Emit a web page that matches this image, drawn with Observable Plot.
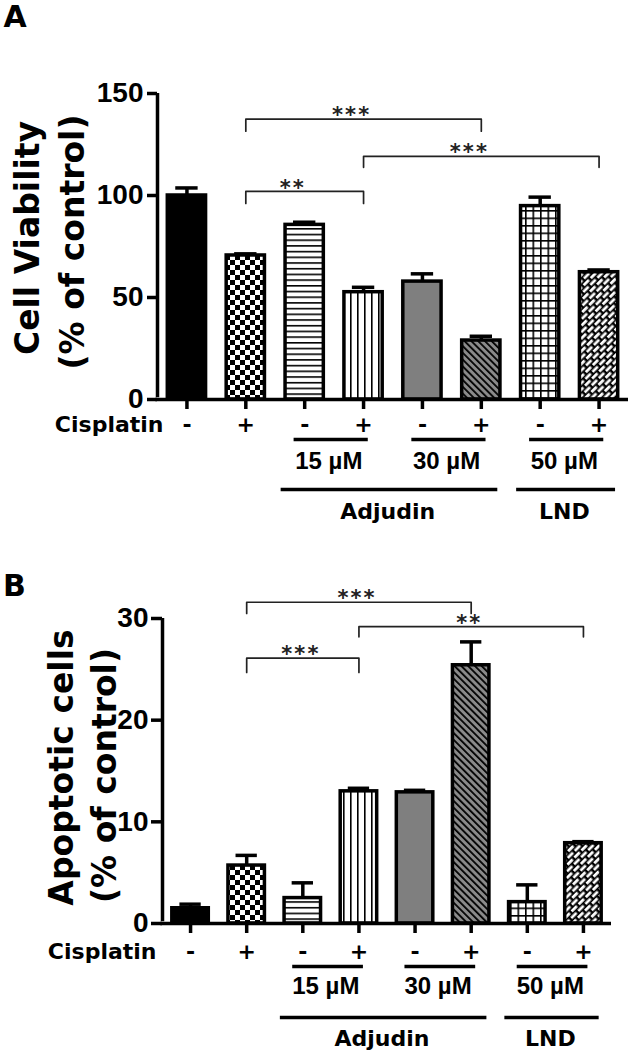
<!DOCTYPE html>
<html><head><meta charset="utf-8">
<script src="https://cdn.jsdelivr.net/npm/d3@7"></script>
<script src="https://cdn.jsdelivr.net/npm/@observablehq/plot@0.6"></script>
<style>
html,body{margin:0;padding:0;background:#fff;}
#chart svg{display:block;}
</style></head><body><div id="chart"></div>
<script>
// ---- data ----
const conditions = ["Control", "Cisplatin", "Adjudin 15 µM", "Adjudin 15 µM + Cisplatin",
  "Adjudin 30 µM", "Adjudin 30 µM + Cisplatin", "LND 50 µM", "LND 50 µM + Cisplatin"];
const cisplatin = ["-", "+", "-", "+", "-", "+", "-", "+"];
const viability = [100.0, 70.6, 85.6, 52.6, 57.8, 28.9, 94.8, 62.4];
const viabilityErr = [3.7, 0.8, 1.3, 2.4, 3.8, 2.1, 4.4, 1.1];
const apoptotic = [1.5, 5.7, 2.5, 13.0, 12.9, 25.4, 2.1, 7.9];
const apoptoticErr = [0.4, 1.0, 1.5, 0.3, 0.2, 2.3, 1.7, 0.15];
const viabilityTicks = [0, 50, 100, 150];
const apoptoticTicks = [0, 10, 20, 30];
const bracketFrom = [1, 3, 1];
const bracketTo = [5, 7, 3];
const viabilityBracketY = [137.4, 119.2, 102.0];
const viabilityBracketDrop = [131.5, 113.8, 96.1];
const viabilityStars = ["***", "***", "**"];
const apoptoticBracketY = [31.6, 29.2, 26.1];
const apoptoticBracketDrop = [30.5, 28.2, 24.7];
const apoptoticStars = ["***", "**", "***"];
const doseLabels = ["15 µM", "30 µM", "50 µM"];
const doseFirst = [2, 4, 6];
const doseLast = [3, 5, 7];
const drugLabels = ["Adjudin", "LND"];
const drugFirst = [2, 6];
const drugLast = [5, 7];
const cisplatinLabel = "Cisplatin";
const panelLetters = ["A", "B"];
const viabilityTitle = ["Cell Viability", "(% of control)"];
const apoptoticTitle = ["Apoptotic cells", "(% of control)"];

// ---- patterns ----
function patternDefs(p) {
  const g = d3.create("svg:g");
  const defs = g.append("defs");
  const pat = (id, w, h, rot) => {
    const el = defs.append("pattern").attr("id", p + id).attr("patternUnits", "userSpaceOnUse")
      .attr("width", w).attr("height", h);
    if (rot) el.attr("patternTransform", `rotate(${rot})`);
    return el;
  };
  const r = (el, x, y, w, h, f) => el.append("rect").attr("x", x).attr("y", y)
    .attr("width", w).attr("height", h).attr("fill", f);
  let e = pat("check", 10, 10); r(e, 0, 0, 10, 10, "#fff"); r(e, 0, 0, 5, 5, "#000"); r(e, 5, 5, 5, 5, "#000");
  e = pat("hline", 6, 5.7); r(e, 0, 0, 6, 5.7, "#fff"); r(e, 0, 0, 6, 1.6, "#000");
  e = pat("vline", 7, 6); r(e, 0, 0, 7, 6, "#fff"); r(e, 0, 0, 1.6, 6, "#000");
  e = pat("diag", 4.8, 4.8, -45); r(e, 0, 0, 4.8, 4.8, "#8a8a8a"); r(e, 0, 0, 1.8, 4.8, "#000");
  e = pat("grid", 7.5, 7.5); r(e, 0, 0, 7.5, 7.5, "#fff"); r(e, 0, 0, 7.5, 1.6, "#000"); r(e, 0, 0, 1.6, 7.5, "#000");
  e = pat("brick", 10, 9, -45); r(e, 0, 0, 10, 9, "#000"); r(e, 1, 1, 7.5, 2.8, "#fff");
  r(e, 6, 5.5, 7.5, 2.8, "#fff"); r(e, -4, 5.5, 7.5, 2.8, "#fff");
  return g.node();
}
const fillsFor = p => ["#000", `url(#${p}check)`, `url(#${p}hline)`, `url(#${p}vline)`,
  "#7f7f7f", `url(#${p}diag)`, `url(#${p}grid)`, `url(#${p}brick)`];

function panel(cfg) {
  const fills = fillsFor(cfg.prefix);
  const ymax = cfg.ticks[cfg.ticks.length - 1];
  const rows = cfg.values.map((v, i) => ({i, v, top: v + cfg.errs[i], fill: fills[i], sign: cisplatin[i], name: conditions[i]}));
  const brackets = bracketFrom.flatMap((f, k) => [
    {k, x: f, y: cfg.bDrop[k]}, {k, x: f, y: cfg.bY[k]},
    {k, x: bracketTo[k], y: cfg.bY[k]}, {k, x: bracketTo[k], y: cfg.bDrop[k]}]);
  const starRows = cfg.stars.map((s, k) => ({s: s.split("").join("\u200A"), x: (bracketFrom[k] + bracketTo[k]) / 2, y: cfg.bY[k]}));
  const doses = doseLabels.map((t, k) => ({t, a: doseFirst[k], b: doseLast[k]}));
  const drugs = drugLabels.map((t, k) => ({t, a: drugFirst[k], b: drugLast[k]}));
  const L = cfg.layout;
  const bold = {fontWeight: "bold", fill: "#000"};
  return Plot.plot({
    width: 630, height: 525,
    marginLeft: L.ml, marginRight: L.mr, marginTop: 93, marginBottom: L.mb,
    x: {domain: [-0.5, 7.5]},
    y: {domain: [0, ymax]},
    color: {type: "identity"},
    style: {fontFamily: "DejaVu Sans", color: "#000", background: "#fff", overflow: "visible"},
    marks: [
      () => patternDefs(cfg.prefix),
      Plot.ruleX(rows, {x: "i", y1: "v", y2: "top", stroke: "#000", strokeWidth: 3.5}),
      Plot.rect(rows, {x1: d => d.i - 0.325, x2: d => d.i + 0.325, y1: 0, y2: "v", fill: "fill", stroke: "#000", strokeWidth: 3.5, title: "name"}),
      Plot.ruleY(rows, {x1: d => d.i - 0.19, x2: d => d.i + 0.19, y: "top", stroke: "#000", strokeWidth: 3.5}),
      Plot.ruleY([0], {stroke: "#000", strokeWidth: 3.5, insetLeft: -1.75}),
      Plot.ruleX([-0.5], {y1: 0, y2: ymax, stroke: "#000", strokeWidth: 3.5, insetTop: -1.75}),
      Plot.axisY({ticks: cfg.ticks, tickSize: L.tickSize, tickPadding: L.tickPad, strokeWidth: 3.5,
        fontSize: 28, fontWeight: "bold", fontFamily: "Liberation Sans, Arial, sans-serif", label: null, fill: "#000", stroke: "#000"}),
      Plot.axisX({ticks: rows.map(d => d.i), tickSize: 10, tickFormat: () => "", strokeWidth: 3.5, label: null, stroke: "#000"}),
      Plot.line(brackets, {x: "x", y: "y", z: "k", stroke: "#222", strokeWidth: 1.7}),
      Plot.text(starRows, {x: "x", y: "y", text: "s", dx: L.starDx, dy: -3.6, fontFamily: "DejaVu Sans",
        fontWeight: "bold", fontSize: 21, fill: "#222", lineAnchor: "middle"}),
      // cisplatin row
      Plot.text([cisplatinLabel], {text: d => d, frameAnchor: "bottom-left", textAnchor: "end", lineAnchor: "middle",
        dx: L.cisDx, dy: L.rows[0], fontSize: 22, ...bold}),
      Plot.text(rows, {x: "i", text: "sign", frameAnchor: "bottom", lineAnchor: "middle", dy: L.rows[0], fontSize: 22, ...bold}),
      // dose groups
      Plot.ruleY(doses, {x1: d => d.a - 0.18, x2: d => d.b + 0.08, y: 0, dy: L.rows[1], stroke: "#000", strokeWidth: 3.3}),
      Plot.text(doses, {x: d => (d.a + d.b) / 2 - 0.09, text: "t", frameAnchor: "bottom", lineAnchor: "middle",
        dy: L.rows[2], fontSize: 24, fontFamily: "Liberation Sans, Arial, sans-serif", ...bold}),
      // drug groups
      Plot.ruleY(drugs, {x1: d => d.a - 0.4, x2: d => d.b + 0.28, y: 0, dy: L.rows[3], stroke: "#000", strokeWidth: 3.3}),
      Plot.text(drugs, {x: d => (d.a + d.b) / 2 - 0.09, text: "t", frameAnchor: "bottom", lineAnchor: "middle",
        dy: L.rows[4], fontSize: 22, ...bold}),
      // y titles
      Plot.text([cfg.title[0]], {text: d => d, frameAnchor: "left", textAnchor: "middle", lineAnchor: "middle", rotate: -90,
        dx: L.titleDx[0], dy: L.titleDy[0], fontSize: 33, ...bold}),
      Plot.text([cfg.title[1]], {text: d => d, frameAnchor: "left", textAnchor: "middle", lineAnchor: "middle", rotate: -90,
        dx: L.titleDx[1], dy: L.titleDy[1], fontSize: 33, ...bold}),
      // panel letter
      Plot.text([cfg.letter], {text: d => d, frameAnchor: "top-left", textAnchor: "middle", lineAnchor: "middle",
        dx: L.letter[0] - L.ml, dy: L.letter[1] - 93, fontSize: 30, ...bold})
    ]
  });
}

const chart = document.getElementById("chart");
chart.appendChild(panel({
  prefix: "a-", values: viability, errs: viabilityErr, ticks: viabilityTicks,
  bY: viabilityBracketY, bDrop: viabilityBracketDrop, stars: viabilityStars,
  letter: panelLetters[0], title: viabilityTitle,
  layout: {ml: 157, mr: 2, mb: 126, tickSize: 10, tickPad: 4, starDx: -13, cisDx: 6,
    rows: [25, 40, 62, 90, 112], titleDx: [-129.5, -84.5], titleDy: [-8.5, -4.5], letter: [14.5, 17]}
}));
chart.appendChild(panel({
  prefix: "b-", values: apoptotic, errs: apoptoticErr, ticks: apoptoticTicks,
  bY: apoptoticBracketY, bDrop: apoptoticBracketDrop, stars: apoptoticStars,
  letter: panelLetters[1], title: apoptoticTitle,
  layout: {ml: 162, mr: 19, mb: 127, tickSize: 11, tickPad: 3, starDx: -3, cisDx: -6,
    rows: [28, 43, 63, 94, 115], titleDx: [-100.5, -57.5], titleDy: [-3.5, 4.5], letter: [14, 61]}
}));
</script></body></html>
